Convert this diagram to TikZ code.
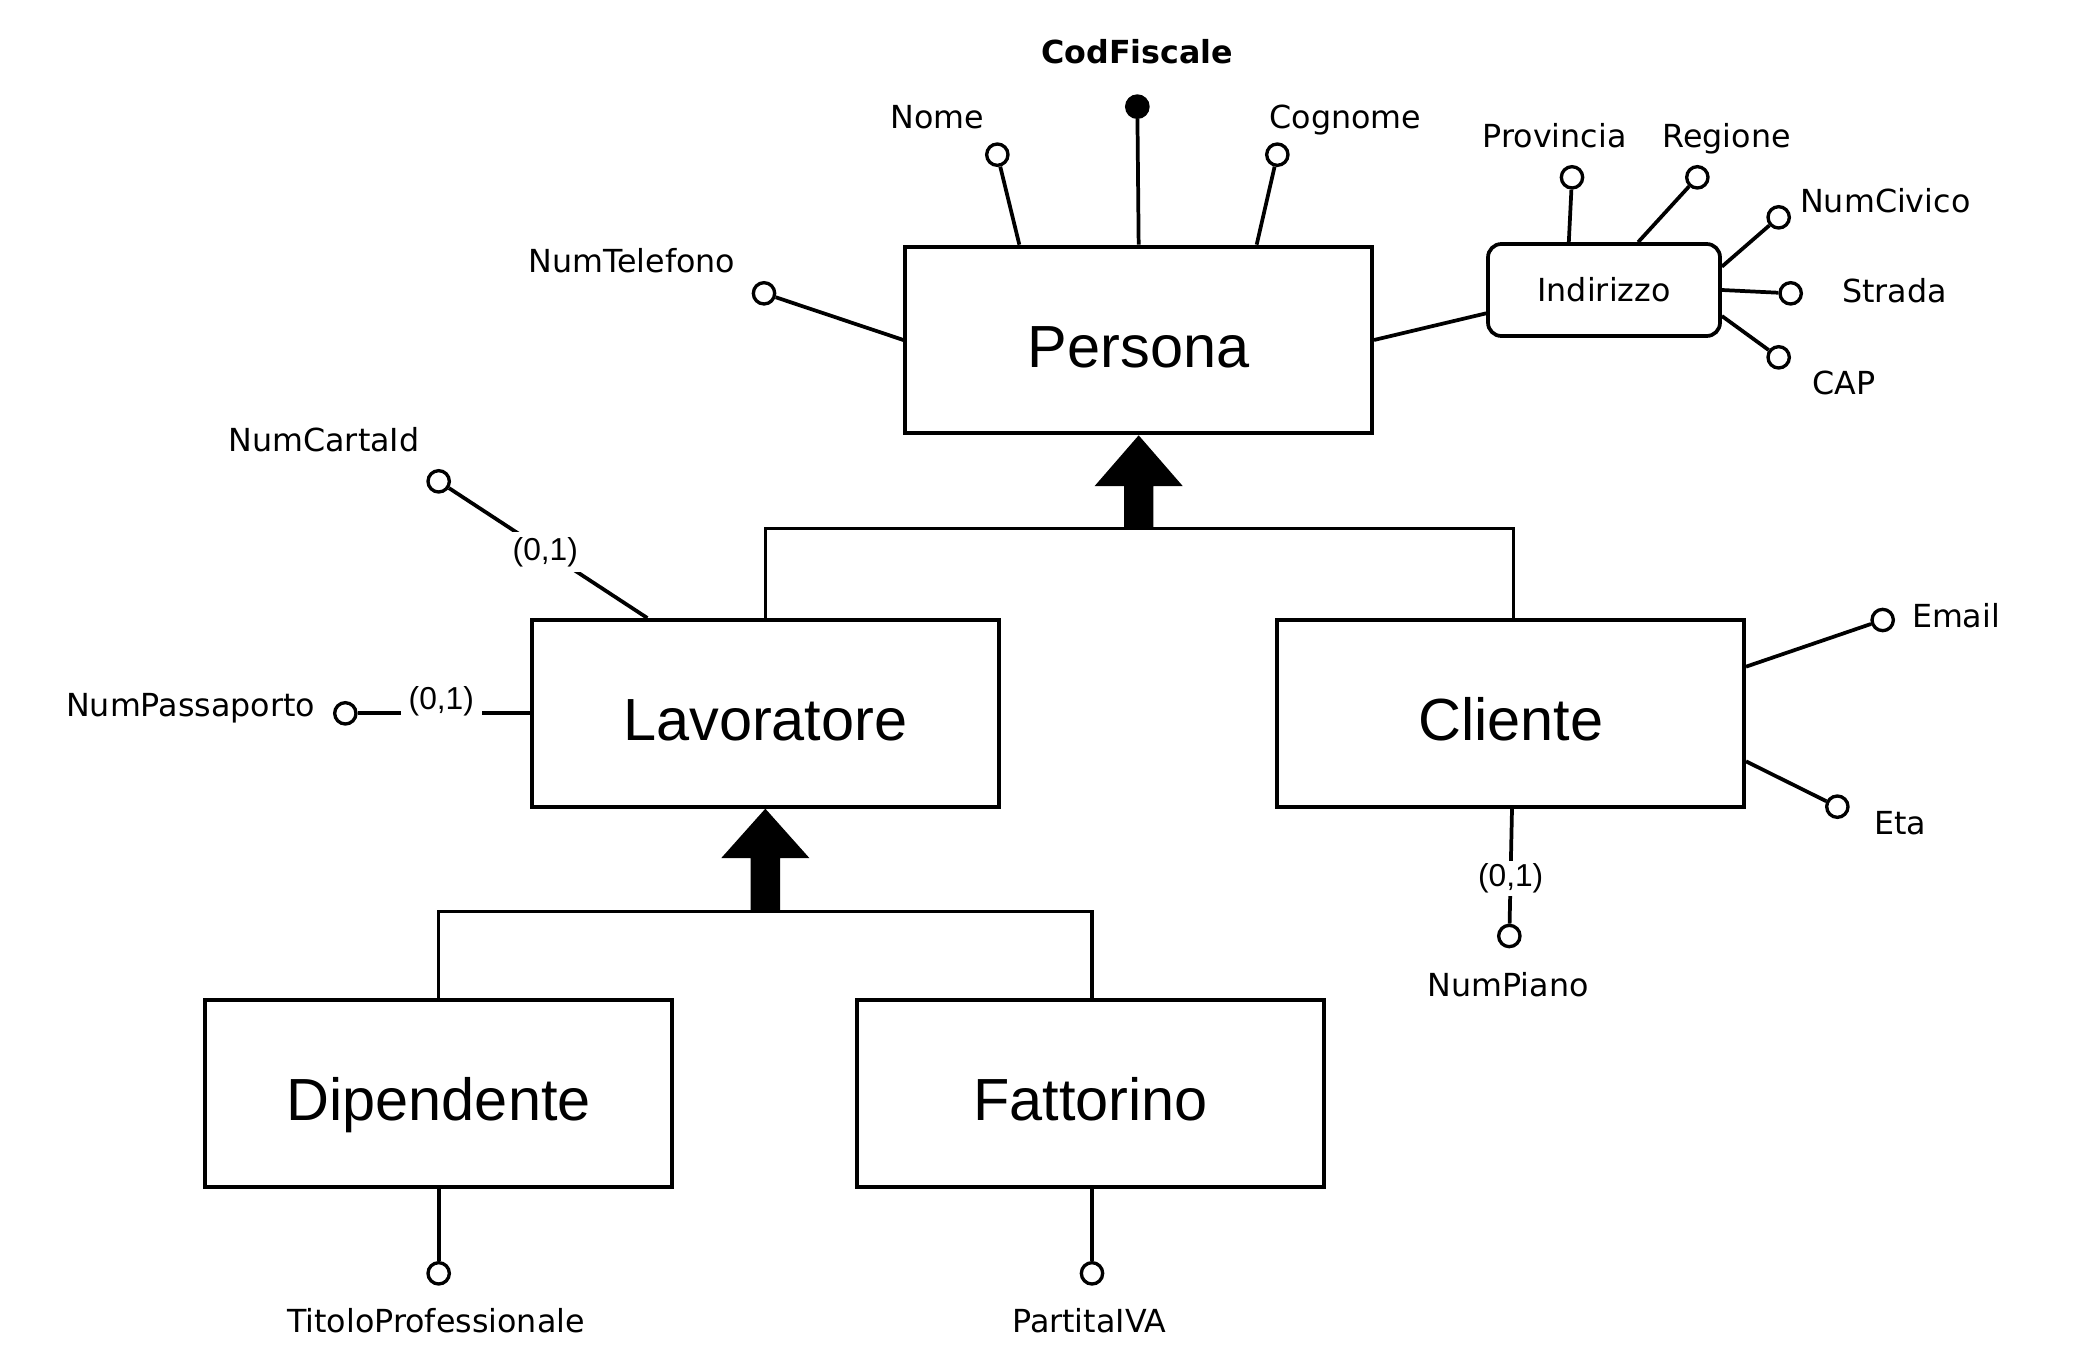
\documentclass[tikz,border=0pt]{standalone}
\usepackage{fontspec}
\setmainfont{DejaVu Sans}
\newfontfamily\entfont{Liberation Sans}
\begin{document}
\begin{tikzpicture}[x=1pt,y=-1pt,
  entity/.style={draw, line width=3pt, minimum width=350pt, minimum height=140pt, inner sep=0pt,
                 text height=41pt, text depth=0pt,
                 font=\entfont\fontsize{44.6}{50}\selectfont},
  compattr/.style={draw, rounded corners=10pt, line width=2.8pt, minimum width=174pt, minimum height=69pt, inner sep=0pt,
                 text height=17.4pt, text depth=0pt,
                 font=\fontsize{23.8}{28}\selectfont},
  attr/.style={circle, draw, fill=white, line width=2.5pt, minimum size=16pt, inner sep=0pt},
  keyattr/.style={attr, fill=black},
  lbl/.style={font=\fontsize{23.8}{28}\selectfont, inner sep=0pt, text height=17.4pt, text depth=0pt},
  keylbl/.style={lbl, font=\bfseries\fontsize{23.8}{28}\selectfont},
  card/.style={font=\entfont\fontsize{23.8}{28}\selectfont, fill=white, inner sep=3pt},
  conn/.style={line width=2.8pt},
  tree/.style={line width=2.6pt}
]
\useasboundingbox (0,0) rectangle (1569,1024.5);

% entities
\node[entity] (pers) at (854,255) {Persona};
\node[entity] (lav)  at (574,535) {Lavoratore};
\node[entity] (cli)  at (1133,535) {Cliente};
\node[entity] (dip)  at (329,820) {Dipendente};
\node[entity] (fat)  at (818,820) {Fattorino};
\node[compattr] (ind) at (1203,217.5) {Indirizzo};

% attribute circles
\node[attr] (nome) at (748,116) {};
\node[keyattr] (cf) at (853,80) {};
\node[attr] (cog) at (958,116) {};
\node[attr] (tel) at (573,220) {};
\node[attr] (prov) at (1179,133) {};
\node[attr] (reg) at (1273,133) {};
\node[attr] (civ) at (1334,163) {};
\node[attr] (str) at (1343,220) {};
\node[attr] (cap) at (1334,268) {};
\node[attr] (carta) at (329,361) {};
\node[attr] (pass) at (259,535) {};
\node[attr] (email) at (1412,465) {};
\node[attr] (eta) at (1378,605) {};
\node[attr] (piano) at (1132,702) {};
\node[attr] (tit) at (329,955) {};
\node[attr] (piva) at (819,955) {};

% attribute labels
\node[keylbl] (lcf) at (853,39) {CodFiscale};
\node[lbl] (lnome) at (703,88) {Nome};
\node[lbl] (lcog) at (1009,88) {Cognome};
\node[lbl] (ltel) at (474,196) {NumTelefono};
\node[lbl] (lprov) at (1166,102) {Provincia};
\node[lbl] (lreg) at (1295,102) {Regione};
\node[lbl] (lciv) at (1414,151) {NumCivico};
\node[lbl] (lstr) at (1421,218) {Strada};
\node[lbl] (lcap) at (1383,287) {CAP};
\node[lbl] (lcarta) at (243,330) {NumCartaId};
\node[lbl] (lpass) at (143,529) {NumPassaporto};
\node[lbl] (lemail) at (1467,462) {Email};
\node[lbl] (leta) at (1425,617) {Eta};
\node[lbl] (lpiano) at (1131,739) {NumPiano};
\node[lbl] (ltit) at (327,991) {TitoloProfessionale};
\node[lbl] (lpiva) at (817,991) {PartitaIVA};

% connectors
\draw[conn] ([xshift=87pt]pers.north west) -- (nome);
\draw[conn] (pers.north) -- (cf);
\draw[conn] ([xshift=-88pt]pers.north east) -- (cog);
\draw[conn] (pers.west) -- (tel);
\draw[conn] (pers.east) -- ([yshift=-17.5pt]ind.west);
\draw[conn] ([xshift=62pt]ind.north west) -- (prov);
\draw[conn] ([xshift=114pt]ind.north west) -- (reg);
\draw[conn] ([yshift=17.5pt]ind.east) -- (civ);
\draw[conn] (ind.east) -- (str);
\draw[conn] ([yshift=-19.5pt]ind.east) -- (cap);
\draw[conn] ([xshift=88pt]lav.north west) -- (carta);
\draw[conn] (lav.west) -- (pass);
\draw[conn] ([yshift=35pt]cli.east) -- (email);
\draw[conn] ([yshift=-36pt]cli.east) -- (eta);
\draw[conn] ([xshift=1pt]cli.south) -- (piano);
\draw[conn] (dip.south) -- (tit);
\draw[conn] ([xshift=1pt]fat.south) -- (piva);

% cardinalities
\node[card, inner ysep=4pt] (c1) at (409,414) {(0,1)};
\node[card, inner xsep=6pt] (c2) at (331,526) {(0,1)};
\node[card, inner ysep=2pt] (c3) at (1133,659) {(0,1)};

% generalizations
\fill (pers.south) -- ++(33,38) -- ++(-22,0) -- ++(0,32) -- ++(-22,0) -- ++(0,-32) -- ++(-22,0) -- cycle;
\path (pers.south) ++(0,70) coordinate (j1);
\draw[tree] (lav.north) |- (j1) -| ([xshift=2pt]cli.north);

\fill (lav.south) -- ++(33,37) -- ++(-22,0) -- ++(0,40) -- ++(-22,0) -- ++(0,-40) -- ++(-22,0) -- cycle;
\path (lav.south) ++(0,77) coordinate (j2);
\draw[tree] (dip.north) |- (j2) -| ([xshift=1pt]fat.north);
\end{tikzpicture}
\end{document}
